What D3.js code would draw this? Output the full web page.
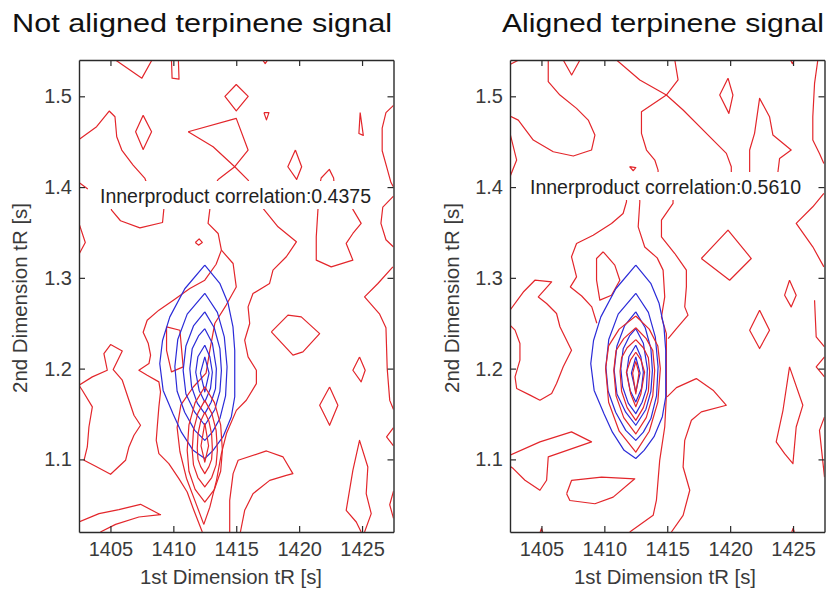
<!DOCTYPE html>
<html lang="en">
<head>
<meta charset="UTF-8">
<title>Terpinene signal alignment</title>
<script src="https://d3js.org/d3.v7.min.js"></script>
<style>
  body { margin: 0; background: #fff; }
  svg text { font-family: "Liberation Sans", Arial, sans-serif; }
</style>
</head>
<body>
<svg id="chart" width="833" height="591"></svg>
<script>
// axes
var xDomain = [1402.5, 1427.5];
var yDomain = [1.02, 1.54];
var xTicks = [1405, 1410, 1415, 1420, 1425];
var yTicks = [1.1, 1.2, 1.3, 1.4, 1.5];
var titles = ["Not aligned terpinene signal", "Aligned terpinene signal"];
var correlations = ["Innerproduct correlation:0.4375", "Innerproduct correlation:0.5610"];

// blue reference peak, the same in both panels
var blueContours = [
  [[1412.5,1.314],[1413.69,1.294],[1414.35,1.272],[1414.74,1.246],[1414.88,1.22],[1414.88,1.169],[1414.61,1.147],[1413.95,1.125],[1413.16,1.11],[1412.5,1.101],[1411.57,1.11],[1410.64,1.13],[1409.98,1.15],[1409.19,1.176],[1408.92,1.2055],[1409.14,1.231],[1409.72,1.257],[1410.91,1.288],[1412.5,1.314]],
  [[1412.5,1.283],[1413.5,1.262],[1414.05,1.235],[1414.27,1.202],[1414.15,1.17],[1413.7,1.145],[1413.1,1.13],[1412.5,1.121],[1411.7,1.132],[1410.9,1.152],[1410.3,1.175],[1410.12,1.202],[1410.35,1.232],[1411.1,1.26],[1412.5,1.283]],
  [[1412.5,1.2625],[1413.25,1.245],[1413.7,1.222],[1413.82,1.198],[1413.7,1.175],[1413.3,1.155],[1412.5,1.1376],[1411.7,1.152],[1411.0,1.172],[1410.78,1.198],[1411.0,1.225],[1411.6,1.247],[1412.5,1.2625]],
  [[1412.5,1.244],[1413.1,1.228],[1413.42,1.2],[1413.35,1.178],[1413.0,1.163],[1412.5,1.1504],[1411.9,1.162],[1411.45,1.18],[1411.31,1.2],[1411.5,1.222],[1412.0,1.236],[1412.5,1.244]],
  [[1412.5,1.2258],[1412.9,1.213],[1413.1,1.196],[1412.95,1.178],[1412.5,1.1633],[1412.05,1.176],[1411.78,1.196],[1411.95,1.213],[1412.5,1.2258]],
  [[1412.5,1.213],[1412.84,1.195],[1412.5,1.1743],[1412.15,1.195],[1412.5,1.213]]
];

// red signal, not aligned
var redNotAligned = [
  [[1405.4,1.54],[1407.5,1.52],[1408.3,1.54]],
  [[1409.85,1.54],[1409.9,1.52],[1410.45,1.519],[1410.4,1.54]],
  [[1417.1,1.54],[1417.3,1.536],[1417.5,1.54]],
  [[1415,1.513],[1415.95,1.5],[1415,1.484],[1414.1,1.5],[1415,1.513]],
  [[1417.2,1.482],[1417.6,1.482],[1417.4,1.474],[1417.2,1.482]],
  [[1407.6,1.479],[1408.27,1.461],[1407.6,1.4415],[1407.0,1.461],[1407.6,1.479]],
  [[1402.5,1.4525],[1403.9,1.4665],[1404.9,1.4838],[1405.36,1.4775],[1405.5,1.4555],[1405.9,1.4408],[1406.8,1.4242],[1407.74,1.4095],[1408.0,1.40]],
  [[1404.8,1.39],[1405.09,1.3746],[1405.8,1.3629],[1407.34,1.3551],[1409.14,1.361],[1409.25,1.3765],[1409.3,1.39]],
  [[1411.18,1.461],[1415,1.4757],[1415.94,1.4408],[1414.88,1.4224],[1413.56,1.4084],[1413.2,1.40]],
  [[1411.18,1.461],[1413.16,1.4445],[1414.88,1.4224],[1415.94,1.4077],[1416.2,1.40]],
  [[1419.7,1.4408],[1420.2,1.4224],[1419.8,1.4084],[1419.1,1.4224],[1419.7,1.4408]],
  [[1421.6,1.40],[1421.75,1.41],[1422.4,1.4195],[1422.74,1.41],[1422.8,1.40]],
  [[1424.85,1.482],[1425.1,1.457],[1424.75,1.459],[1424.85,1.482]],
  [[1427.5,1.49],[1426.9,1.482],[1426.6,1.465],[1426.6,1.44],[1427.0,1.42],[1427.3,1.405],[1427.5,1.40]],
  [[1427.5,1.39],[1426.65,1.378],[1426.5,1.36],[1426.9,1.342],[1427.5,1.334]],
  [[1421.5,1.39],[1421.5,1.3765],[1421.36,1.3452],[1421.36,1.3195],[1422.55,1.3121],[1424.27,1.3195],[1423.74,1.3379],[1424.27,1.3489],[1424.93,1.36],[1424.27,1.3754],[1424.2,1.39]],
  [[1402.5,1.36],[1403.0,1.339],[1402.5,1.326]],
  [[1402.5,1.405],[1403.2,1.398]],
  [[1411.75,1.339],[1412.05,1.343],[1412.3,1.339],[1412.0,1.336],[1411.75,1.339]],
  [[1402.5,1.1817],[1403.56,1.1909],[1404.75,1.1982],[1404.48,1.2166],[1405.01,1.2265],[1405.94,1.2195],[1405.22,1.199],[1405.94,1.1872],[1406.47,1.1651],[1406.87,1.1486],[1407.39,1.1376],[1406.87,1.1266],[1406.47,1.1137],[1406.2,1.099],[1405.01,1.0836],[1403.82,1.0924],[1402.9,1.099],[1403.16,1.1137],[1403.29,1.1357],[1403.56,1.1578],[1402.76,1.1762],[1402.5,1.1817]],
  [[1412.3,1.02],[1411.63,1.0439],[1411.1,1.0641],[1410.44,1.0788],[1409.64,1.0953],[1408.85,1.1063],[1408.64,1.121],[1408.72,1.1357],[1408.85,1.1578],[1408.98,1.1743],[1408.85,1.1854],[1407.92,1.1927],[1407.26,1.1982],[1408.06,1.2056],[1408.19,1.2148],[1408.0,1.228],[1407.6,1.24],[1407.92,1.2533],[1408.85,1.2644],[1410.0,1.2754],[1411.31,1.2882],[1412.5,1.2974],[1413.4,1.315],[1413.82,1.3305],[1413.56,1.3489],[1412.76,1.36],[1412.9,1.3754],[1412.9,1.39]],
  [[1412.42,1.0284],[1412.9,1.0474],[1413.43,1.0768],[1413.82,1.1063],[1414.22,1.1284],[1415.01,1.154],[1415.8,1.1651],[1416.6,1.1835],[1416.6,1.1982],[1415.94,1.2129],[1415.67,1.2313],[1416.07,1.2497],[1415.94,1.268],[1416.33,1.2827],[1417.65,1.2938],[1417.92,1.3085],[1418.98,1.3232],[1419.78,1.3397],[1418.32,1.3562],[1417.13,1.3765],[1417.0,1.39]],
  [[1412.42,1.0284],[1411.84,1.0499],[1411.04,1.0793],[1410.52,1.1087],[1410.3,1.135],[1410.6,1.16],[1411.6,1.18],[1412.6,1.195],[1412.9,1.22],[1413.3,1.25],[1414.2,1.27],[1415.0,1.29],[1414.75,1.3158],[1413.82,1.3305]],
  [[1409.46,1.246],[1410.52,1.2423],[1410.78,1.2019],[1409.85,1.1964],[1409.46,1.2202],[1409.46,1.246]],
  [[1414.48,1.02],[1414.48,1.0549],[1414.75,1.0843],[1415.15,1.099],[1417.4,1.1093],[1418.72,1.1027],[1419.5,1.0843],[1418.98,1.0824],[1417.66,1.0769],[1416.33,1.0622],[1415.67,1.0439],[1415.33,1.02]],
  [[1417.79,1.2405],[1419.11,1.2589],[1420.17,1.257],[1421.63,1.2386],[1420.3,1.2184],[1419.51,1.2148],[1417.79,1.2405]],
  [[1424.8,1.2129],[1425.25,1.1982],[1424.93,1.1854],[1424.27,1.1982],[1424.8,1.2129]],
  [[1422.42,1.1798],[1423.08,1.1596],[1422.42,1.1376],[1421.63,1.1596],[1422.42,1.1798]],
  [[1424.93,1.02],[1424.54,1.031],[1423.74,1.0439],[1424.27,1.088],[1424.8,1.121],[1425.46,1.0916],[1425.33,1.0622],[1425.73,1.0402],[1425.2,1.02]],
  [[1427.45,1.312],[1426.26,1.2938],[1425.2,1.279],[1426.4,1.26],[1426.9,1.245],[1427.0,1.2],[1427.2,1.165],[1427.5,1.155]],
  [[1427.5,1.135],[1426.95,1.1247],[1427.5,1.115]],
  [[1427.5,1.065],[1427.2,1.05],[1427.5,1.035]],
  [[1402.5,1.031],[1404.09,1.0402],[1405.67,1.0446],[1407.39,1.0505],[1408.98,1.0391],[1407.26,1.0365],[1405.41,1.0284],[1404.2,1.02]]
];
// red peak lenses, not aligned (lower than the blue peak)
var redPeakNotAligned = [
  [[1412.5,1.18],[1413.27,1.1625],[1413.76,1.138],[1413.9,1.11],[1413.76,1.087],[1413.27,1.067],[1412.5,1.053],[1411.73,1.067],[1411.24,1.087],[1411.1,1.11],[1411.24,1.138],[1411.73,1.1625],[1412.5,1.18]],
  [[1412.5,1.165],[1413.05,1.151],[1413.4,1.132],[1413.5,1.11],[1413.4,1.094],[1413.05,1.08],[1412.5,1.0696],[1411.95,1.08],[1411.6,1.094],[1411.5,1.11],[1411.6,1.132],[1411.95,1.151],[1412.5,1.165]],
  [[1412.5,1.152],[1412.83,1.142],[1413.04,1.128],[1413.1,1.112],[1413.04,1.1],[1412.83,1.092],[1412.5,1.0843],[1412.17,1.092],[1411.96,1.1],[1411.9,1.112],[1411.96,1.128],[1412.17,1.142],[1412.5,1.152]],
  [[1412.5,1.14],[1412.8,1.115],[1412.5,1.097],[1412.2,1.115],[1412.5,1.14]]
];

// red signal, aligned
var redAligned = [
  [[1402.5,1.535],[1403.2,1.54]],
  [[1406.73,1.54],[1407.4,1.5235],[1408.06,1.54]],
  [[1405.54,1.54],[1405.54,1.5161],[1406.47,1.5014],[1407.79,1.4867],[1408.72,1.4738],[1409.25,1.4573],[1408.98,1.4408],[1407.53,1.4342],[1405.94,1.4389],[1404.35,1.4518],[1403.16,1.4738],[1402.5,1.4783]],
  [[1402.5,1.4592],[1403.03,1.4298],[1402.5,1.4114]],
  [[1412.0,1.4225],[1412.5,1.4215],[1412.3,1.418],[1412.0,1.4225]],
  [[1410.97,1.54],[1412.82,1.518],[1414.93,1.5014],[1416.26,1.4849],[1418.37,1.4555],[1419.7,1.4371],[1420.09,1.4224],[1420.1,1.40]],
  [[1415.6,1.54],[1415.86,1.518],[1414.93,1.5014],[1412.95,1.483],[1412.95,1.4591],[1413.35,1.4408],[1414.01,1.4298],[1414.27,1.4187],[1414.27,1.40]],
  [[1419.83,1.52],[1420.22,1.5014],[1419.9,1.4812],[1419.17,1.5014],[1419.83,1.52]],
  [[1421.55,1.40],[1421.55,1.4169],[1421.55,1.4408],[1421.94,1.4592],[1422.34,1.4977],[1423.13,1.4775],[1423.4,1.4573],[1424.85,1.4408],[1423.93,1.4316],[1423.8,1.4169],[1423.8,1.40]],
  [[1426.97,1.54],[1426.71,1.5143],[1426.57,1.4775],[1426.57,1.4518],[1427.1,1.4371],[1427.45,1.4261]],
  [[1424.8,1.54],[1424.95,1.536],[1425.1,1.54]],
  [[1411.76,1.39],[1411.76,1.3838],[1411.49,1.3709],[1410.57,1.3599],[1409.11,1.347],[1407.79,1.3379],[1407.39,1.3232],[1407.79,1.3011],[1407.3,1.29],[1408.2,1.28],[1409.0,1.268],[1409.4,1.25]],
  [[1409.91,1.3287],[1410.83,1.314],[1411.23,1.2974],[1410.57,1.2809],[1409.64,1.2754],[1409.38,1.2974],[1409.38,1.3213],[1409.91,1.3287]],
  [[1412.02,1.02],[1413.88,1.0384],[1414.14,1.055],[1414.4,1.0989],[1414.8,1.1357],[1414.93,1.17],[1414.93,1.2386],[1414.54,1.257],[1414.8,1.279],[1414.67,1.3085],[1414.2,1.322],[1413.21,1.334],[1412.69,1.3562],[1412.82,1.3838],[1412.8,1.39]],
  [[1415.46,1.39],[1415.46,1.382],[1414.54,1.3636],[1414.54,1.3452],[1415.6,1.3268],[1416.52,1.3085],[1416.52,1.29],[1416.39,1.268],[1416.65,1.2589],[1415.73,1.2441],[1415.07,1.2331]],
  [[1417.71,1.3213],[1419.83,1.3526],[1421.68,1.3213],[1419.96,1.2974],[1417.71,1.3213]],
  [[1427.45,1.393],[1426.57,1.3783],[1425.25,1.36],[1426.57,1.3342],[1427.45,1.3121]],
  [[1424.72,1.2974],[1425.25,1.2809],[1424.85,1.268],[1424.33,1.2809],[1424.72,1.2974]],
  [[1402.5,1.2644],[1403.6,1.285],[1404.48,1.2974],[1405.81,1.2956],[1404.75,1.279],[1405.41,1.2717],[1406.2,1.2607],[1406.47,1.2461],[1407.39,1.2203],[1406.73,1.202],[1406.2,1.1836],[1405.81,1.1726],[1404.88,1.1652],[1404.09,1.1708],[1403.03,1.1781],[1402.9,1.1909],[1403.29,1.2093],[1403.29,1.2277],[1402.9,1.2424],[1402.5,1.2479]],
  [[1402.5,1.1046],[1404.88,1.1193],[1407.39,1.1303],[1408.98,1.1193],[1405.54,1.1027],[1405.41,1.077],[1404.88,1.066],[1403.69,1.077],[1402.76,1.0899],[1402.5,1.0924]],
  [[1407.0,1.0621],[1407.39,1.0768],[1409.78,1.0805],[1412.42,1.0786],[1410.7,1.0584],[1409.25,1.0511],[1407.26,1.0547],[1407.0,1.0621]],
  [[1415.33,1.02],[1416.26,1.0384],[1416.79,1.066],[1416.26,1.0916],[1416.39,1.121],[1416.92,1.1431],[1417.71,1.1523],[1419.7,1.1596],[1418.64,1.1762],[1417.31,1.189],[1415.73,1.1791],[1414.99,1.1688]],
  [[1422.34,1.2644],[1423.13,1.2423],[1422.34,1.2221],[1421.55,1.2423],[1422.34,1.2644]],
  [[1424.72,1.2019],[1425.78,1.1597],[1425.25,1.1357],[1424.99,1.0953],[1424.33,1.1063],[1423.66,1.1192],[1424.2,1.1541],[1424.72,1.2019]],
  [[1426.71,1.2754],[1426.84,1.2349],[1427.5,1.2239]],
  [[1427.5,1.2129],[1426.84,1.2019],[1427.5,1.1908]],
  [[1427.5,1.1467],[1427.1,1.132],[1427.5,1.0805]],
  [[1404.9,1.02],[1405.0,1.024],[1405.1,1.02]],
  [[1424.9,1.02],[1425.0,1.024],[1425.1,1.02]]
];
// red peak lenses, aligned (sitting on the blue peak)
var redPeakAligned = [
  [[1412.5,1.258],[1413.57,1.2435],[1414.25,1.225],[1414.45,1.2],[1414.25,1.163],[1413.57,1.131],[1412.5,1.108],[1411.18,1.131],[1410.34,1.163],[1410.1,1.2],[1410.34,1.225],[1411.18,1.2435],[1412.5,1.258]],
  [[1412.5,1.245],[1413.33,1.233],[1413.85,1.22],[1414.0,1.198],[1413.85,1.17],[1413.33,1.146],[1412.5,1.128],[1411.54,1.146],[1410.93,1.17],[1410.75,1.198],[1410.93,1.22],[1411.54,1.233],[1412.5,1.245]],
  [[1412.5,1.232],[1413.1,1.223],[1413.5,1.212],[1413.6,1.197],[1413.5,1.175],[1413.1,1.157],[1412.5,1.143],[1411.81,1.157],[1411.37,1.175],[1411.25,1.197],[1411.37,1.212],[1411.81,1.223],[1412.5,1.232]],
  [[1412.5,1.218],[1412.9,1.21],[1413.2,1.196],[1412.9,1.172],[1412.5,1.158],[1412.1,1.172],[1411.75,1.196],[1412.1,1.21],[1412.5,1.218]],
  [[1412.5,1.208],[1412.75,1.195],[1412.5,1.172],[1412.25,1.195],[1412.5,1.208]]
];

var RED = "#e3262b", BLUE = "#2b2bd8", AXIS = "#2a2a2a";

var panels = [
  { left: 79, title: titles[0], titleX: 12, titleLen: 380, corr: correlations[0], corrX: 100, corrY: 203,
    red: redNotAligned, redPeak: redPeakNotAligned, ylabX: 27, xlabX: 231 },
  { left: 510, title: titles[1], titleX: 502, titleLen: 322, corr: correlations[1], corrX: 530, corrY: 194,
    red: redAligned, redPeak: redPeakAligned, ylabX: 459, xlabX: 665 }
];

var svg = d3.select("#chart");
svg.append("rect").attr("width", 833).attr("height", 591).attr("fill", "#fff");

var plotTop = 60, plotBottom = 532, plotW = 314.5;

panels.forEach(function(p, i) {
  var x = d3.scaleLinear().domain(xDomain).range([p.left, p.left + plotW]);
  var y = d3.scaleLinear().domain(yDomain).range([plotBottom, plotTop]);
  var line = d3.line().x(function(d) { return x(d[0]); }).y(function(d) { return y(d[1]); });

  svg.append("clipPath").attr("id", "clip" + i)
    .append("rect").attr("x", p.left).attr("y", plotTop).attr("width", plotW).attr("height", plotBottom - plotTop);

  var g = svg.append("g").attr("clip-path", "url(#clip" + i + ")")
    .attr("fill", "none").attr("stroke-width", 1.2).attr("stroke-linejoin", "round");

  g.selectAll(".red").data(p.red).enter().append("path")
    .attr("class", "red").attr("d", line).attr("stroke", RED);
  g.selectAll(".blue").data(blueContours).enter().append("path")
    .attr("class", "blue").attr("d", line).attr("stroke", BLUE);
  g.selectAll(".peak").data(p.redPeak).enter().append("path")
    .attr("class", "peak").attr("d", line).attr("stroke", RED);

  // correlation label with white box
  var lab = svg.append("g");
  lab.append("rect").attr("x", p.corrX - 3).attr("y", p.corrY - 22)
    .attr("width", 278).attr("height", 28).attr("fill", "#fff");
  lab.append("text").attr("x", p.corrX).attr("y", p.corrY)
    .attr("font-size", 19.5).attr("fill", "#222")
    .attr("textLength", 271).attr("lengthAdjust", "spacingAndGlyphs")
    .text(p.corr);

  // axes, ticks inward on all sides
  var ax = svg.append("g").attr("class", "axes");
  ax.append("g").attr("transform", "translate(0," + plotBottom + ")")
    .call(d3.axisBottom(x).tickValues(xTicks).tickSizeInner(-6).tickSizeOuter(0).tickPadding(10).tickFormat(d3.format("d")));
  ax.append("g").attr("transform", "translate(0," + plotTop + ")")
    .call(d3.axisTop(x).tickValues(xTicks).tickSizeInner(-6).tickSizeOuter(0).tickFormat(""));
  ax.append("g").attr("transform", "translate(" + p.left + ",0)")
    .call(d3.axisLeft(y).tickValues(yTicks).tickSizeInner(-6).tickSizeOuter(0).tickPadding(7).tickFormat(d3.format(".1f")));
  ax.append("g").attr("transform", "translate(" + (p.left + plotW) + ",0)")
    .call(d3.axisRight(y).tickValues(yTicks).tickSizeInner(-6).tickSizeOuter(0).tickFormat(""));
  ax.selectAll("path.domain").attr("stroke", AXIS).attr("stroke-width", 1.4);
  ax.selectAll(".tick line").attr("stroke", AXIS).attr("stroke-width", 1.2);
  ax.selectAll(".tick text").attr("font-size", 20).attr("fill", "#3a3a3a")
    .attr("font-family", "'Liberation Sans', Arial, sans-serif");

  // titles and axis labels
  svg.append("text").attr("x", p.titleX).attr("y", 32)
    .attr("font-size", 26.5).attr("fill", "#111")
    .attr("textLength", p.titleLen).attr("lengthAdjust", "spacingAndGlyphs")
    .text(p.title);
  svg.append("text").attr("x", p.xlabX).attr("y", 584).attr("text-anchor", "middle")
    .attr("font-size", 20).attr("fill", "#3a3a3a")
    .attr("textLength", 182).attr("lengthAdjust", "spacingAndGlyphs")
    .text("1st Dimension tR [s]");
  svg.append("text").attr("transform", "translate(" + p.ylabX + ",298) rotate(-90)")
    .attr("text-anchor", "middle").attr("font-size", 20).attr("fill", "#3a3a3a")
    .attr("textLength", 190).attr("lengthAdjust", "spacingAndGlyphs")
    .text("2nd Dimension tR [s]");
});
</script>
</body>
</html>
